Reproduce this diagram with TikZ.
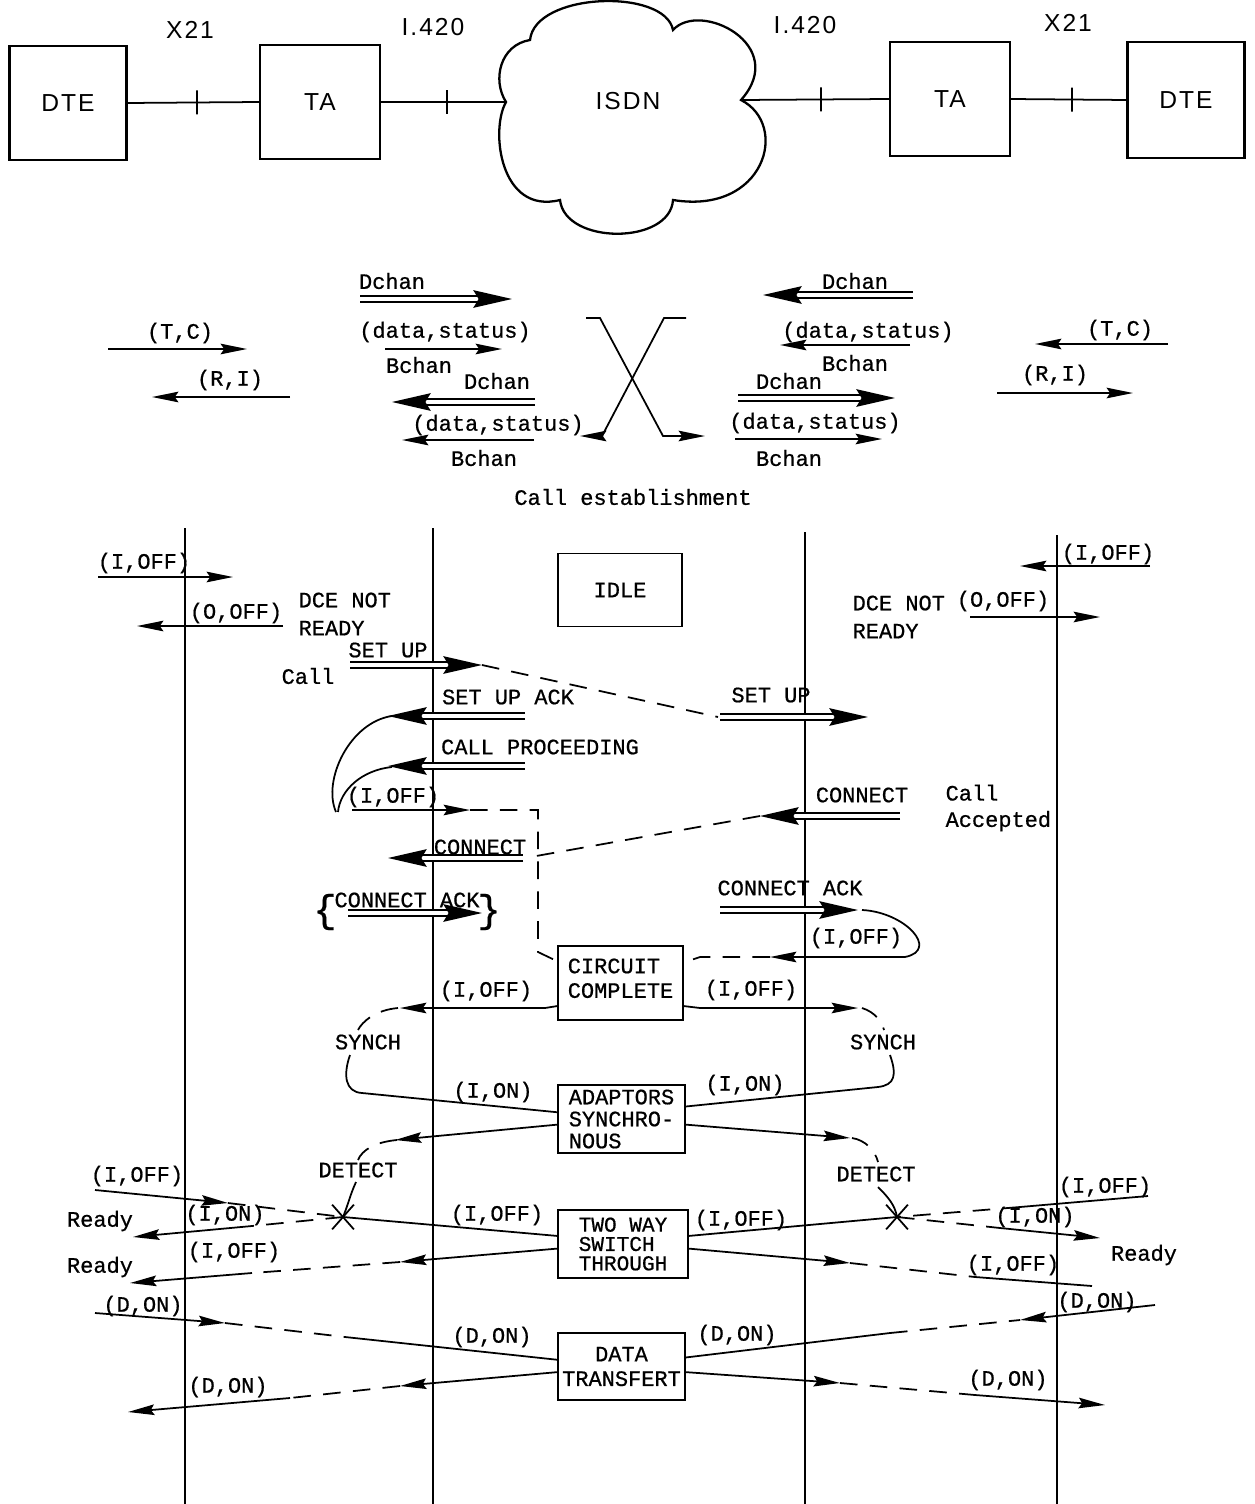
\documentclass[tikz,border=0pt]{standalone}
\usepackage{fontspec}
\setmonofont[FakeBold=0.7]{Liberation Mono}
\newfontfamily\hdfont[LetterSpace=8]{Liberation Sans}
\usetikzlibrary{arrows.meta,shapes.misc}
\newcommand\ttlab{\fontsize{12.5}{14}\selectfont\ttfamily}

\begin{document}
\begin{tikzpicture}[x=0.02cm, y=-0.02cm, >={Stealth[length=15pt,width=6pt,inset=2pt]}, line width=1pt,
    lbl/.style={font=\ttlab, inner sep=1pt},
    hd/.style={font=\hdfont\fontsize{14}{16}\selectfont, inner sep=0pt},
    unit/.style={draw, line width=1.2pt, minimum width=2.4cm, minimum height=2.28cm, font=\hdfont\fontsize{14}{16}\selectfont},
    state/.style={draw, line width=1pt, font=\ttlab, inner sep=1pt},
    tick/.style={draw, inner sep=0pt, minimum width=0pt, minimum height=0.48cm},
    dbl/.style={double, double distance=2.6pt, line width=0.9pt, -{Stealth[length=22pt,width=10pt,inset=3pt]}},
    dsh/.style={dash pattern=on 10pt off 7pt},
    brc/.style={font=\fontsize{22}{22}\selectfont\ttfamily, inner sep=0pt}]

    \useasboundingbox (0,0) rectangle (1254,1504);

    % ==================== network ====================
    \node[unit, minimum width=2.34cm] (dteL) at (68,103) {DTE};
    \node[unit] (taL) at (320,102) {TA};
    \node[unit] (taR) at (950,99) {TA};
    \node[unit, minimum width=2.34cm, minimum height=2.32cm] (dteR) at (1186,100) {DTE};

    % cloud
    \coordinate (cL) at (506,102);
    \coordinate (cR) at (741,100);
    \draw[line width=1.3pt] (cL) .. controls (492,80) and (500,45) .. (530,40)
        .. controls (535,-8) and (665,-12) .. (673,30)
        .. controls (700,0) and (790,45) .. (cR)
        .. controls (790,125) and (765,215) .. (673,200)
        .. controls (670,245) and (565,245) .. (560,200)
        .. controls (500,215) and (490,130) .. (cL) -- cycle;
    \node[hd] (isdn) at (628,101) {ISDN};

    % links
    \draw (dteL.east) -- (taL.west) node[tick, pos=0.53] (t1) {};
    \draw (taL.east) -- (cL) node[tick, pos=0.53] (t2) {};
    \draw (cR) -- (taR.west) node[tick, pos=0.54] (t3) {};
    \draw (taR.east) -- (dteR.west) node[tick, pos=0.53] (t4) {};

    \node[hd] (x21L) at (190,30) {X21};
    \node[hd] (i420L) at (433,27) {I.420};
    \node[hd] (i420R) at (805,25) {I.420};
    \node[hd] (x21R) at (1068,23) {X21};

    % ==================== key ====================
    \node[lbl] (tcL) at (180,333) {(T,C)};
    \draw[->] (108,349) -- (247,349);
    \node[lbl] (riL) at (230,380) {(R,I)};
    \draw[->] (290,397) -- (152,397);

    \node[lbl] (dchA) at (392,281) {Dchan};
    \draw[dbl] (360,299) -- (512,299);
    \node[lbl] (dsA) at (445,332) {(data,status)};
    \draw[->] (385,349) -- (502,349);
    \node[lbl] (bchA) at (419,365) {Bchan};
    \node[lbl] (dchB) at (497,381) {Dchan};
    \draw[dbl] (535,402) -- (392,402);
    \node[lbl] (dsB) at (498,425) {(data,status)};
    \draw[->] (534,440) -- (402,440);
    \node[lbl] (bchB) at (484,458) {Bchan};

    % crossing
    \draw[->] (586,318) -- (600,318) -- (663,436) -- (705,436);
    \draw[->] (686,318) -- (664,318) -- (602,436) -- (580,436);

    \node[lbl] (dchC) at (855,281) {Dchan};
    \draw[dbl] (913,295) -- (763,295);
    \node[lbl] (dsC) at (868,332) {(data,status)};
    \draw[->] (910,345) -- (780,345);
    \node[lbl] (bchC) at (855,363) {Bchan};
    \node[lbl] (dchD) at (789,381) {Dchan};
    \draw[dbl] (738,398) -- (895,398);
    \node[lbl] (dsD) at (815,423) {(data,status)};
    \draw[->] (735,439) -- (882,439);
    \node[lbl] (bchD) at (789,458) {Bchan};

    \node[lbl] (tcR) at (1120,330) {(T,C)};
    \draw[->] (1168,344) -- (1035,344);
    \node[lbl] (riR) at (1055,375) {(R,I)};
    \draw[->] (997,393) -- (1133,393);

    \node[lbl] (title) at (633,497) {Call establishment};

    % ==================== sequence ====================
    % lifelines
    \foreach \x/\t in {185/528, 433/528, 805/532, 1057/535}
        \draw (\x,\t) -- (\x,1504);

    % states
    \node[state, minimum width=2.48cm, minimum height=1.46cm] (idle) at (620,590) {IDLE};
    \node[state, minimum width=2.5cm, minimum height=1.48cm, align=left] (cc) at (620.5,983) {CIRCUIT\\COMPLETE\\[-8.5pt]};
    \node[state, minimum width=2.54cm, minimum height=1.36cm, align=left, font=\fontsize{12.5}{12.5}\selectfont\ttfamily] (as) at (621.5,1119) {ADAPTORS\\SYNCHRO-\\NOUS};
    \node[state, minimum width=2.6cm, minimum height=1.36cm, align=left, font=\fontsize{12}{11}\selectfont\ttfamily] (tw) at (623,1244) {TWO WAY\\SWITCH\\THROUGH};
    \node[state, minimum width=2.54cm, minimum height=1.34cm, align=center] (dt) at (621.5,1366.5) {DATA\\TRANSFERT};

    % not ready
    \node[lbl] (ioffA) at (144,563) {(I,OFF)};
    \draw[->] (98,577) -- (233,577);
    \node[lbl] (ooffA) at (236,613) {(O,OFF)};
    \draw[->] (283,626) -- (137,626);
    \node[lbl, anchor=west, align=left, font=\fontsize{12.5}{16}\selectfont\ttfamily] (dceL) at (296,614) {DCE NOT\\READY};
    \node[lbl] (ioffB) at (1108,554) {(I,OFF)};
    \draw[->] (1150,566) -- (1020,566);
    \node[lbl, anchor=west, align=left, font=\fontsize{12.5}{16}\selectfont\ttfamily] (dceR) at (850,617) {DCE NOT\\READY};
    \node[lbl] (ooffB) at (1003,601) {(O,OFF)};
    \draw[->] (970,617) -- (1100,617);

    % set up
    \node[lbl] (suA) at (388,650) {SET UP};
    \node[lbl] (callA) at (308,676) {Call};
    \draw[dbl] (350,665) -- (482,665);
    \draw[dsh] (482,665) -- (718,717);
    \node[lbl] (suack) at (508,697) {SET UP ACK};
    \draw[dbl] (525,716) -- (388,716);
    \node[lbl] (suB) at (771,695) {SET UP};
    \draw[dbl] (720,717) -- (868,717);
    \node[lbl] (cproc) at (540,747) {CALL PROCEEDING};
    \draw[dbl] (525,766) -- (388,766);
    \draw (392,716) .. controls (350,722) and (322,780) .. (336,812);
    \draw (392,767) .. controls (362,770) and (340,790) .. (338,812);

    % connect
    \node[lbl] (ioffC) at (393,797) {(I,OFF)};
    \draw[->] (352,810) -- (470,810);
    \draw[dsh] (470,810) -- (538,810) -- (538,952) -- (cc.161);
    \node[lbl] (conB) at (862,795) {CONNECT};
    \node[lbl, anchor=west, align=left, font=\fontsize{12.5}{15}\selectfont\ttfamily] (acc) at (943,808) {Call\\Accepted};
    \draw[dbl] (900,816) -- (760,816);
    \draw[dsh] (760,816) -- (525,858);
    \node[lbl] (conA) at (480,847) {CONNECT};
    \draw[dbl] (523,858) -- (388,858);
    \node[lbl] (cackA) at (407,900) {CONNECT ACK};
    \draw[dbl] (348,913) -- (482,913);
    \node[brc] (brL) at (325,912) {\{};
    \node[brc] (brR) at (489,912) {\}};
    \node[lbl] (cackB) at (790,888) {CONNECT ACK};
    \draw[dbl] (720,910) -- (858,910);
    \draw (862,910) .. controls (905,912) and (940,950) .. (905,957);
    \node[lbl] (ioffD) at (856,938) {(I,OFF)};
    \draw[->] (905,957) -- (770,957);
    \draw[dsh] (770,957) -- (700,957) -- (cc.18);

    % synch
    \node[lbl] (ioffE) at (486,991) {(I,OFF)};
    \draw[->] (cc.200) -- (545,1008) -- (400,1008);
    \draw[dsh] (398,1008) .. controls (375,1010) and (362,1022) .. (358,1030);
    \node[lbl] (syL) at (368,1042) {SYNCH};
    \draw (350,1055) .. controls (343,1075) and (345,1092) .. (362,1093) -- (as.174);
    \node[lbl] (ionA) at (493,1092) {(I,ON)};
    \node[lbl] (ioffF) at (751,990) {(I,OFF)};
    \draw[->] (cc.-20) -- (700,1008) -- (858,1008);
    \draw[dsh] (862,1008) .. controls (875,1012) and (882,1022) .. (884,1030);
    \node[lbl] (syR) at (883,1042) {SYNCH};
    \draw (890,1055) .. controls (897,1075) and (895,1085) .. (878,1087) -- (as.11);
    \node[lbl] (ionB) at (745,1085) {(I,ON)};

    % detect
    \draw[->] (as.185) -- (395,1140);
    \draw[dsh] (397,1140) .. controls (375,1142) and (362,1150) .. (358,1160);
    \node[lbl] (detL) at (358,1170) {DETECT};
    \node[cross out, draw, minimum width=0.4cm, minimum height=0.46cm, inner sep=0pt] (xL) at (343,1217) {};
    \draw (356,1182) .. controls (350,1195) and (348,1205) .. (xL.center);
    \draw[->] (as.-5) -- (850,1138);
    \draw[dsh] (852,1138) .. controls (865,1140) and (875,1150) .. (878,1162);
    \node[lbl] (detR) at (876,1174) {DETECT};
    \node[cross out, draw, minimum width=0.4cm, minimum height=0.46cm, inner sep=0pt] (xR) at (897,1217) {};
    \draw (878,1187) .. controls (888,1197) and (895,1205) .. (xR.center);

    % switch through
    \node[lbl] (ioffG) at (137,1176) {(I,OFF)};
    \draw[->] (95,1190) -- (228,1203);
    \draw[dsh] (228,1203) -- (xL.center);
    \node[lbl] (ionC) at (225,1215) {(I,ON)};
    \draw[dsh] (xL.center) -- (252,1226);
    \draw[->] (252,1226) -- (133,1237);
    \node[lbl] (rdyA) at (100,1221) {Ready};
    \node[lbl] (ioffH) at (497,1215) {(I,OFF)};
    \draw (tw.173) -- (xL.center);
    \node[lbl] (ioffI) at (234,1252) {(I,OFF)};
    \draw[->] (tw.184) -- (400,1262);
    \draw[dsh] (400,1262) -- (252,1273);
    \draw[->] (252,1273) -- (130,1283);
    \node[lbl] (rdyB) at (100,1267) {Ready};

    \node[lbl] (ioffJ) at (741,1220) {(I,OFF)};
    \draw (tw.7) -- (xR.center);
    \node[lbl] (ioffK) at (1105,1187) {(I,OFF)};
    \draw (1148,1196) -- (1020,1207);
    \draw[dsh] (1020,1207) -- (xR.center);
    \node[lbl] (ionD) at (1035,1217) {(I,ON)};
    \draw[dsh] (xR.center) -- (1000,1228);
    \draw[->] (1000,1228) -- (1100,1238);
    \node[lbl] (rdyC) at (1144,1255) {Ready};
    \node[lbl] (ioffL) at (1013,1265) {(I,OFF)};
    \draw[->] (tw.-4) -- (850,1263);
    \draw[dsh] (850,1263) -- (975,1277);
    \draw (975,1277) -- (1092,1286);

    % data transfer
    \node[lbl] (donA) at (143,1306) {(D,ON)};
    \draw[->] (95,1313) -- (225,1323);
    \draw[dsh] (225,1323) -- (345,1337);
    \draw (345,1337) -- (dt.174);
    \node[lbl] (donB) at (492,1337) {(D,ON)};
    \node[lbl] (donC) at (228,1387) {(D,ON)};
    \draw[->] (dt.185) -- (400,1386);
    \draw[dsh] (400,1386) -- (290,1398);
    \draw[->] (290,1398) -- (128,1412);

    \node[lbl] (donD) at (737,1335) {(D,ON)};
    \draw (dt.8) -- (890,1333);
    \draw[dsh] (890,1333) -- (1020,1320);
    \draw[->] (1155,1305) -- (1020,1320);
    \node[lbl] (donE) at (1097,1302) {(D,ON)};
    \node[lbl] (donF) at (1008,1380) {(D,ON)};
    \draw[->] (dt.-5) -- (840,1383);
    \draw[dsh] (840,1383) -- (975,1395);
    \draw[->] (975,1395) -- (1105,1405);

\end{tikzpicture}
\end{document}
